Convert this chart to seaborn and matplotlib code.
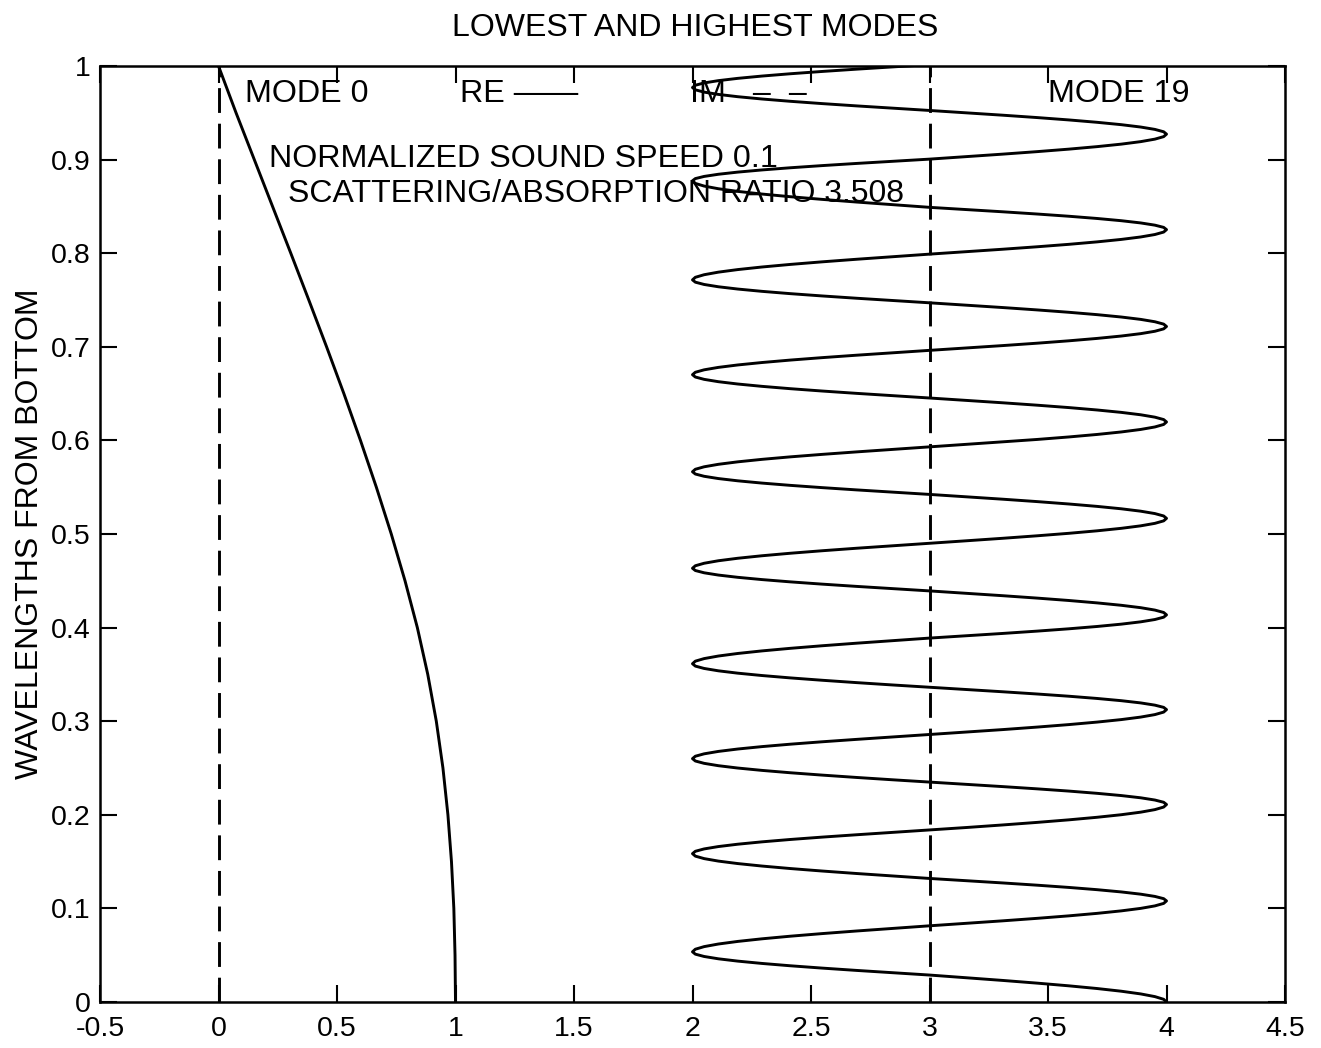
import matplotlib
matplotlib.use("Agg")
import matplotlib.pyplot as plt
import pandas as pd
import seaborn as sns

# ---- data -------------------------------------------------------------
title = "LOWEST AND HIGHEST MODES"
y_label = "WAVELENGTHS FROM BOTTOM"

# Mode 0, real part, sampled along height above the bottom
mode0_depth = [0.0, 0.05, 0.1, 0.15, 0.2, 0.25, 0.3, 0.35, 0.4, 0.45, 0.5,
               0.55, 0.6, 0.65, 0.7, 0.75, 0.8, 0.85, 0.9, 0.95, 1.0]
mode0_re = [1.0, 0.998, 0.993, 0.983, 0.968, 0.947, 0.919, 0.883, 0.839,
            0.787, 0.729, 0.666, 0.599, 0.529, 0.456, 0.381, 0.305, 0.228,
            0.151, 0.074, 0.0]

# Mode 19, real part (plotted with an offset of 3): heights of the peaks,
# zero crossings and troughs, in order from the bottom up
mode19_knot_depth = [0.0, 0.0288, 0.0536, 0.0814, 0.108, 0.132, 0.1585,
                     0.1837, 0.211, 0.2349, 0.260, 0.2857, 0.3124, 0.3362,
                     0.3614, 0.3888, 0.4136, 0.4392, 0.4634, 0.4901, 0.5167,
                     0.5423, 0.5665, 0.593, 0.6197, 0.6453, 0.6702, 0.6962,
                     0.7217, 0.747, 0.7715, 0.799, 0.8252, 0.849, 0.8774,
                     0.9005, 0.9272, 0.9525, 0.977, 1.0015]
mode19_knot_re = [4, 3, 2, 3] * 10
# shape of one quarter lobe, from an extremum (1) down to the crossing (0)
lobe_frac = [0.0, 0.1, 0.2, 0.3, 0.4, 0.5, 0.6, 0.7, 0.8, 0.9, 1.0]
lobe_dev = [1.0, 0.988, 0.951, 0.891, 0.809, 0.707, 0.588, 0.454, 0.309,
            0.156, 0.0]

# Imaginary parts (both essentially zero, offsets 0 and 3)
im_depth = [0.0, 1.0]
mode0_im = [0.0, 0.0]
mode19_im = [3.0, 3.0]

x_ticks = [-0.5, 0, 0.5, 1, 1.5, 2, 2.5, 3, 3.5, 4, 4.5]
x_tick_labels = ["-0.5", "0", "0.5", "1", "1.5", "2", "2.5", "3", "3.5",
                 "4", "4.5"]
y_ticks = [0, 0.1, 0.2, 0.3, 0.4, 0.5, 0.6, 0.7, 0.8, 0.9, 1]
y_tick_labels = ["0", "0.1", "0.2", "0.3", "0.4", "0.5", "0.6", "0.7",
                 "0.8", "0.9", "1"]

# ---- build the mode 19 trace from its knots --------------------------
m19_y, m19_x = [], []
for i in range(len(mode19_knot_depth) - 1):
    y0, y1 = mode19_knot_depth[i], mode19_knot_depth[i + 1]
    x0, x1 = mode19_knot_re[i], mode19_knot_re[i + 1]
    if x0 != 3:
        sign = x0 - 3
        for f, d in zip(lobe_frac, lobe_dev):
            m19_y.append(y0 + f * (y1 - y0))
            m19_x.append(3 + sign * d)
    else:
        sign = x1 - 3
        for f, d in reversed(list(zip(lobe_frac, lobe_dev))):
            m19_y.append(y1 - f * (y1 - y0))
            m19_x.append(3 + sign * d)

mode0_df = pd.DataFrame({"re": mode0_re, "depth": mode0_depth})
mode19_df = pd.DataFrame({"re": m19_x, "depth": m19_y})
im0_df = pd.DataFrame({"im": mode0_im, "depth": im_depth})
im19_df = pd.DataFrame({"im": mode19_im, "depth": im_depth})

# ---- figure ------------------------------------------------------------
sns.set_theme(style="ticks")
plt.rcParams["font.family"] = ["Liberation Sans", "DejaVu Sans"]
plt.rcParams["axes.edgecolor"] = "black"
plt.rcParams["xtick.color"] = "black"
plt.rcParams["ytick.color"] = "black"

W, H = 1321, 1048
fig = plt.figure(figsize=(W / 100, H / 100), dpi=100)
ax = fig.add_axes([100 / W, 1 - 1002 / H, 1185 / W, 936 / H])

line_kw = dict(color="black", linewidth=2.1, sort=False, estimator=None)
sns.lineplot(data=mode0_df, x="re", y="depth", ax=ax, **line_kw)
sns.lineplot(data=mode19_df, x="re", y="depth", ax=ax, **line_kw)
sns.lineplot(data=im0_df, x="im", y="depth", ax=ax,
             linestyle=(0, (8.5, 3.7)), **line_kw)
sns.lineplot(data=im19_df, x="im", y="depth", ax=ax,
             linestyle=(0, (8.5, 3.7)), **line_kw)

ax.set_xlim(-0.5, 4.5)
ax.set_ylim(0, 1)
ax.set_xticks(x_ticks)
ax.set_xticklabels(x_tick_labels)
ax.set_yticks(y_ticks)
ax.set_yticklabels(y_tick_labels)
ax.set_xlabel("")
ax.set_ylabel("")
ax.tick_params(direction="in", length=12, width=1.5, top=True, right=True,
               labelsize=20.5, colors="black")
ax.tick_params(axis="x", pad=10)
ax.tick_params(axis="y", pad=7)
for sp in ax.spines.values():
    sp.set_visible(True)
    sp.set_linewidth(1.8)
    sp.set_color("black")

txt = dict(fontsize=23.2, va="center", ha="left", color="black")
ax.text(0.11, 0.970, "MODE 0", **txt)
ax.text(1.018, 0.970, "RE \u2014\u2014", **txt)
ax.text(1.99, 0.970, "IM   \u2013  \u2013", **txt)
ax.text(3.502, 0.970, "MODE 19", **txt)
ax.text(0.215, 0.901, "NORMALIZED SOUND SPEED 0.1", **txt)
ax.text(0.292, 0.8635, "SCATTERING/ABSORPTION RATIO 3.508", fontsize=23,
        va="center", ha="left", color="black")

fig.text(695 / W, 1 - 28 / H, title, fontsize=23, ha="center",
         va="center", color="black")
fig.text(30 / W, 1 - 534 / H, y_label, fontsize=23, ha="center",
         va="center", rotation=90, color="black")

fig.savefig("out.png", dpi=100, facecolor="white")
